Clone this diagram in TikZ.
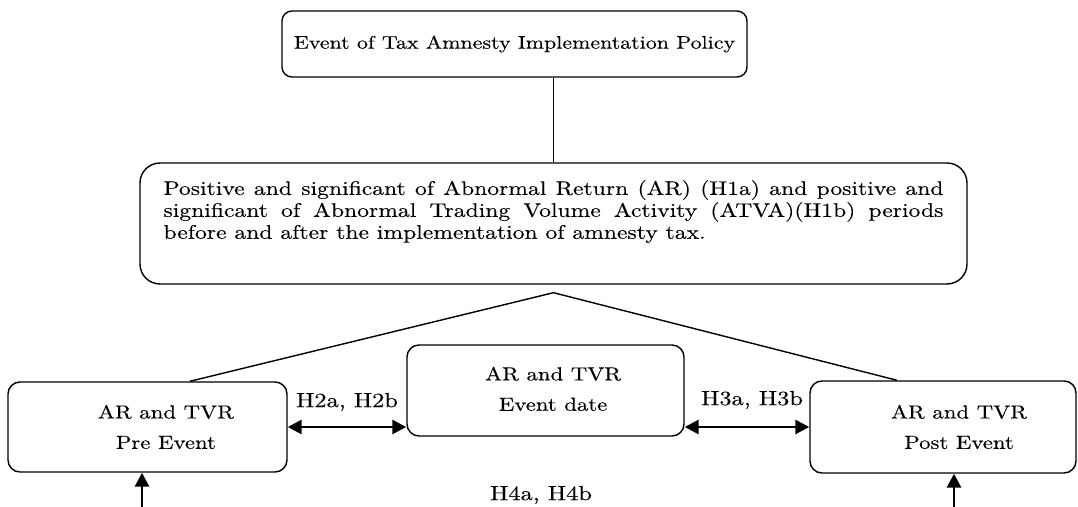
\documentclass[tikz,border=0pt]{standalone}
\usepackage{fontspec}
\setmainfont{lmroman10-regular.otf}[FakeStretch=1.2, FakeBold=0.15]
\usetikzlibrary{arrows.meta}

\tikzset{
	evbox/.style={draw, line width=1pt, rounded corners=#1, inner sep=0pt},
	boxtext/.style={align=center, font=\fontsize{13.5}{21.6}\selectfont},
	hyptext/.style={font=\fontsize{14.5}{17}\selectfont, inner sep=0pt},
	bigtip/.tip={Triangle[length=0.35cm,width=0.35cm]},
	bigarrow/.style={line width=2pt, -bigtip},
	dblarrow/.style={line width=2pt, bigtip-bigtip},
}
% one justified line of the H1 box
\newcommand{\fullline}[1]{\makebox[19.5cm][s]{#1}}

\begin{document}
\begin{tikzpicture}
	\useasboundingbox (0,0) rectangle (26.95,12.675);
%	% Event and hypothesis H1
	\node[evbox=0.25cm, minimum width=11.625cm, minimum height=1.65cm,
		font=\fontsize{13}{15}\selectfont] (policy) at (12.8625,11.575)
		{Event of Tax Amnesty Implementation Policy};
	\node[evbox=0.5cm, minimum width=20.675cm, minimum height=3.025cm,
		label={[align=left, yshift=0.3cm, inner sep=0pt,
			font=\fontsize{14}{15.6}\selectfont]center:{\fullline{Positive and significant of Abnormal Return (AR) (H1a) and positive and}\\
			\fullline{significant of Abnormal Trading Volume Activity (ATVA)(H1b) periods}\\
			\makebox[19.5cm][l]{before and after the implementation of amnesty tax.}}}]
		(hone) at (13.8375,7.0875) {};
	\coordinate (peak) at ([yshift=-0.2cm]hone.south);
%	% Event windows
	\node[evbox=0.3cm, minimum width=6.975cm, minimum height=2.25cm,
		label={[boxtext, xshift=0.46cm]center:{AR and TVR\\Pre Event}}]
		(pre) at (3.6875,2.0) {};
	\node[evbox=0.3cm, minimum width=6.925cm, minimum height=2.275cm,
		label={[boxtext, xshift=0.19cm, yshift=0.04cm]center:{AR and TVR\\Event date}}]
		(date) at (13.6375,2.9125) {};
	\node[evbox=0.3cm, minimum width=6.65cm, minimum height=2.3cm,
		label={[boxtext, xshift=0.4cm]center:{AR and TVR\\Post Event}}]
		(post) at (23.575,2.0) {};
%	% Links
	\draw[line width=1pt] (hone.north) -- (hone.north |- policy.south);
	\draw[line width=1pt] ([xshift=1.06cm]pre.north) -- (peak) -- ([xshift=-1.15cm]post.north);
	\draw[dblarrow] (pre.east) -- (pre.east -| date.west);
	\draw[dblarrow] (post.west) -- (post.west -| date.east);
	\coordinate (preIn) at (3.55,0);
	\coordinate (postIn) at (23.85,0);
	\draw[bigarrow] (preIn) -- (preIn |- pre.south);
	\draw[bigarrow] (postIn) -- (postIn |- post.south);
%	% Hypotheses H2 to H4
	\node[hyptext] (htwo) at (8.675,2.625) {H2a, H2b};
	\node[hyptext] (hthree) at (18.8,2.675) {H3a, H3b};
	\node[hyptext] (hfour) at (13.525,0.3) {H4a, H4b};
\end{tikzpicture}
\end{document}
